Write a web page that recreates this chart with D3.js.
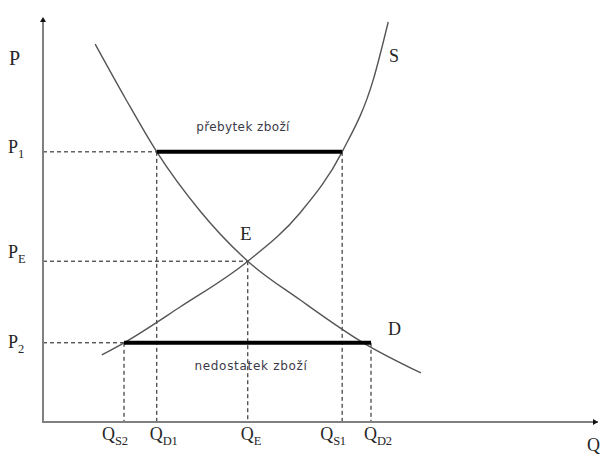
<!DOCTYPE html>
<html><head><meta charset="utf-8">
<script src="https://cdn.jsdelivr.net/npm/d3@7/dist/d3.min.js"></script>
<style>body{margin:0;background:#fff}svg{display:block}</style>
</head><body><svg id="c" width="605" height="458"></svg>
<script>
// Data (Q and P in arbitrary units 0-100)
const supplyQ = [10.6, 14.6, 24.7, 36.9, 46.3, 53.9, 59.5, 62.2];
const supplyP = [16.7, 19.7, 28.6, 40.0, 52.0, 67.2, 85.1, 99.5];
const demandQ = [9.4, 14.8, 20.5, 28.3, 36.9, 46.3, 57.7, 68.1];
const demandP = [94.0, 80.6, 67.2, 52.5, 40.0, 30.4, 19.7, 12.2];
const qSubs = ["S2", "D1", "E", "S1", "D2"];
const qValues = [14.6, 20.5, 36.9, 53.9, 59.1];
const qTopP = [19.7, 67.2, 40.0, 67.2, 19.7];   // price where each vertical guide starts
const pSubs = ["1", "E", "2"];
const pValues = [67.2, 40.0, 19.7];
const pEndQ = [20.5, 36.9, 14.6];               // quantity where each horizontal guide ends
const surplus = {p: 67.2, q0: 20.5, q1: 53.9, label: "přebytek zboží"};
const shortage = {p: 19.7, q0: 14.6, q1: 59.1, label: "nedostatek zboží"};

const svg = d3.select("#c");
const x = d3.scaleLinear().domain([0, 100]).range([43, 598]);
const y = d3.scaleLinear().domain([0, 100]).range([422, 20]);
const serif = "'Liberation Serif','Times New Roman',serif";
const sans = "'DejaVu Sans',Verdana,sans-serif";
const txt = "#262626";

// dashed guides
const dashG = svg.append("g").attr("stroke", "#111").attr("stroke-width", 1).attr("stroke-dasharray", "4,3");
pValues.forEach((p, i) => {
  dashG.append("line").attr("x1", x(0)).attr("x2", x(pEndQ[i])).attr("y1", y(p)).attr("y2", y(p));
});
qValues.forEach((q, i) => {
  dashG.append("line").attr("x1", x(q)).attr("x2", x(q)).attr("y1", y(qTopP[i])).attr("y2", y(0));
});

// curves
const line = d3.line().x(d => x(d[0])).y(d => y(d[1])).curve(d3.curveMonotoneX);
svg.append("path").attr("d", line(supplyQ.map((q, i) => [q, supplyP[i]])))
  .attr("fill", "none").attr("stroke", "#555").attr("stroke-width", 1.4);
svg.append("path").attr("d", line(demandQ.map((q, i) => [q, demandP[i]])))
  .attr("fill", "none").attr("stroke", "#555").attr("stroke-width", 1.4);

// thick lines
[surplus, shortage].forEach(s => {
  svg.append("line").attr("x1", x(s.q0)).attr("x2", x(s.q1)).attr("y1", y(s.p)).attr("y2", y(s.p))
    .attr("stroke", "#000").attr("stroke-width", 4);
});
svg.append("text").attr("x", 243).attr("y", y(surplus.p) - 21)
  .attr("text-anchor", "middle").attr("font-family", sans).attr("font-size", 12).attr("letter-spacing", 0.4)
  .attr("fill", "#3a3a48").text(surplus.label);
svg.append("text").attr("x", 251).attr("y", y(shortage.p) + 27)
  .attr("text-anchor", "middle").attr("font-family", sans).attr("font-size", 12).attr("letter-spacing", 0.7)
  .attr("fill", "#3a3a48").text(shortage.label);

// axes
const ax = svg.append("g").attr("stroke", "#808080").attr("stroke-width", 2);
ax.append("line").attr("x1", x(0)).attr("x2", x(0)).attr("y1", y(0) + 1).attr("y2", y(100));
ax.append("line").attr("x1", x(0) - 1).attr("x2", x(100)).attr("y1", y(0)).attr("y2", y(0));
svg.append("path").attr("d", `M${x(0) - 3},${y(100) + 2} L${x(0)},${y(100) - 3} L${x(0) + 3},${y(100) + 2} Z`).attr("fill", "#111");
svg.append("path").attr("d", `M${x(100) - 5},${y(0) - 3} L${x(100)},${y(0)} L${x(100) - 5},${y(0) + 3} Z`).attr("fill", "#111");

// labels
function label(xp, yp, main, sub, size) {
  const t = svg.append("text").attr("x", xp).attr("y", yp).attr("font-family", serif)
    .attr("font-size", size || 18).attr("fill", txt);
  t.append("tspan").text(main);
  if (sub) t.append("tspan").attr("font-size", 12.5).attr("dy", 5).attr("letter-spacing", -0.3).text(sub);
  return t;
}
const pBaseShift = [1, -3, 5];
const qLabelShift = [-22, -7, -7, -22, -7];
label(9, 65, "P", null, 20);
pValues.forEach((p, i) => label(8, y(p) + pBaseShift[i], "P", pSubs[i]));
qValues.forEach((q, i) => label(x(q) + qLabelShift[i], 440, "Q", qSubs[i]));
label(587, 451, "Q", null, 18);
label(389, 62, "S");
label(240, 240, "E", null, 19);
label(388, 335, "D");
</script></body></html>
